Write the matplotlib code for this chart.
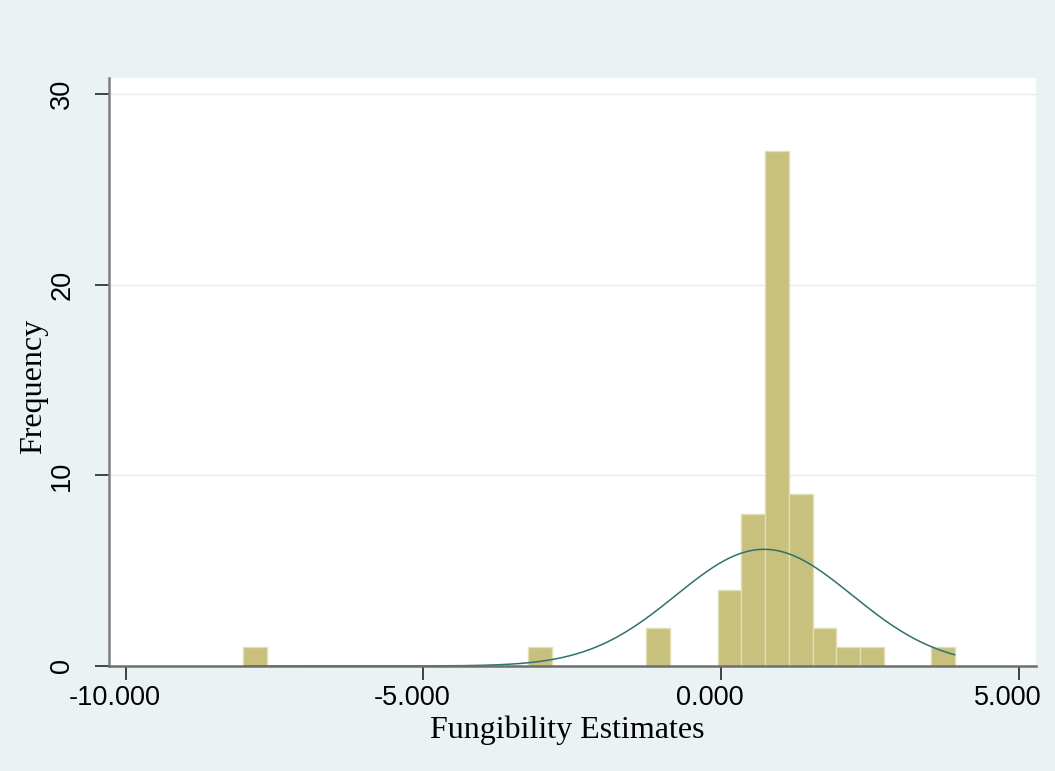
import numpy as np
import matplotlib
matplotlib.use("Agg")
import matplotlib.pyplot as plt
from matplotlib.transforms import ScaledTranslation

# Histogram (30 bins)
BIN_START = -8.03
BIN_WIDTH = 0.3985
COUNTS = [1, 0, 0, 0, 0, 0, 0, 0, 0, 0,
          0, 0, 1, 0, 0, 0, 0, 2, 0, 0,
          4, 8, 27, 9, 2, 1, 1, 0, 0, 1]

# Normal density overlay (mean / sd)
NORMAL_MEAN = 0.72
NORMAL_SD = 1.48
CURVE_RANGE = (-8.0, 3.92)

X_TICKS = [-10, -5, 0, 5]
Y_TICKS = [0, 10, 20, 30]

BG = "#EAF2F3"
BAR_FILL = "#C8C07D"
BAR_EDGE = "#E2DEB6"
CURVE = "#2E716E"

fig = plt.figure(figsize=(10.55, 7.71), dpi=100, facecolor=BG)
ax = fig.add_axes([0.1030, 0.1362, 0.9817 - 0.1030, 0.8992 - 0.1362])
ax.set_facecolor("white")

edges = BIN_START + BIN_WIDTH * np.arange(len(COUNTS))
ax.bar(edges, COUNTS, width=BIN_WIDTH, align="edge",
       color=BAR_FILL, edgecolor=BAR_EDGE, linewidth=1.0, zorder=2)

# Scaled normal density
n_obs = sum(COUNTS)
xs = np.linspace(CURVE_RANGE[0], CURVE_RANGE[1], 400)
dens = n_obs * BIN_WIDTH / (NORMAL_SD * np.sqrt(2 * np.pi)) * np.exp(
    -0.5 * ((xs - NORMAL_MEAN) / NORMAL_SD) ** 2)
ax.plot(xs, dens, color=CURVE, linewidth=1.1, zorder=3)

ax.set_xlim(-10.285, 5.28)
ax.set_ylim(0, 30.87)

# Grid lines
for y in Y_TICKS[1:]:
    ax.axhline(y, color="#E4EEEE", linewidth=1.0, zorder=1)

for side in ["top", "right"]:
    ax.spines[side].set_visible(False)
ax.spines["left"].set_color("#7F7F7F")
ax.spines["bottom"].set_color("#6E6E6E")
ax.spines["left"].set_linewidth(1.8)
ax.spines["bottom"].set_linewidth(1.8)
ax.spines["bottom"].set_zorder(4)

ax.set_xticks(X_TICKS)
ax.set_xticklabels([f"{v:.3f}" for v in X_TICKS],
                   fontfamily="Liberation Sans", fontsize=19.5)
ax.set_yticks(Y_TICKS)
ax.set_yticklabels([str(v) for v in Y_TICKS], rotation=90, va="center",
                   fontfamily="Liberation Sans", fontsize=19.5)
ax.tick_params(axis="x", length=10, width=1.3, color="#333333", pad=4)
ax.tick_params(axis="y", length=10, width=1.3, color="#333333", pad=14)

# Stata puts the x labels a little left of their ticks
shift = ScaledTranslation(-11 / 100, 0, fig.dpi_scale_trans)
for lab in ax.get_xticklabels():
    lab.set_transform(lab.get_transform() + shift)

ax.set_xlabel("Fungibility Estimates", fontfamily="Liberation Serif", fontsize=23)
ax.set_ylabel("Frequency", fontfamily="Liberation Serif", fontsize=23)
ax.xaxis.set_label_coords(0.495, -0.085)
ax.yaxis.set_label_coords(-0.065, 0.475)

fig.savefig("out.png", dpi=100, facecolor=BG)
